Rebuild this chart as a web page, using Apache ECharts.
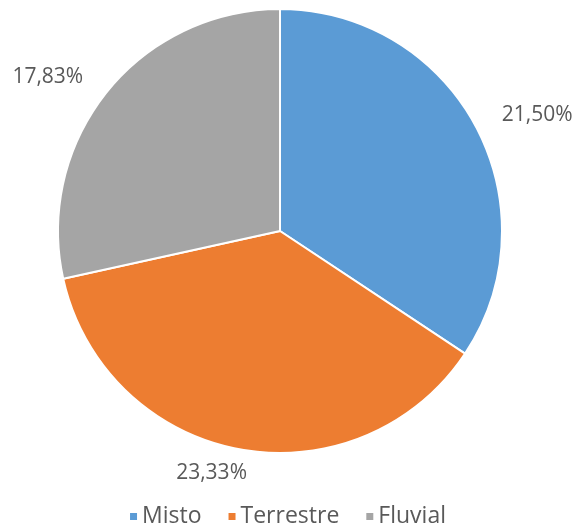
<!DOCTYPE html>
<html>
<head>
<meta charset="utf-8">
<script src="https://cdn.jsdelivr.net/npm/echarts@6/dist/echarts.min.js"></script>
<style>
html,body{margin:0;padding:0;background:#fff;}
#chart{width:574px;height:529px;}
</style>
</head>
<body>
<div id="chart"></div>
<script>
const categories = ['Misto', 'Terrestre', 'Fluvial'];
const values = [21.50, 23.33, 17.83];
const colors = ['#5B9BD5', '#ED7D31', '#A5A5A5'];

const chart = echarts.init(document.getElementById('chart'), null, {renderer: 'canvas'});
const data = categories.map((c, i) => ({name: c, value: values[i], itemStyle: {color: colors[i]}}));

chart.setOption({
  animation: false,
  legend: {
    data: categories,
    top: 505,
    left: 'center',
    padding: 0,
    icon: 'rect',
    itemWidth: 9,
    itemHeight: 9,
    itemGap: 25,
    textStyle: {fontFamily: 'Open Sans', fontSize: 23, color: '#595959', padding: [0, 0, 0, -1]}
  },
  series: [{
    type: 'pie',
    center: [280, 231],
    radius: 222,
    startAngle: 90,
    clockwise: true,
    avoidLabelOverlap: false,
    itemStyle: {borderColor: '#ffffff', borderWidth: 2},
    label: {
      show: true,
      position: 'outside',
      fontFamily: 'Open Sans',
      fontSize: 21,
      color: '#595959',
      formatter: p => p.value.toFixed(2).replace('.', ',') + '%'
    },
    labelLine: {show: false, length: 24, length2: 0},
    labelLayout: p => (p.dataIndex === 1 ? {dx: 17} : {}),
    data: data
  }]
});
</script>
</body>
</html>
